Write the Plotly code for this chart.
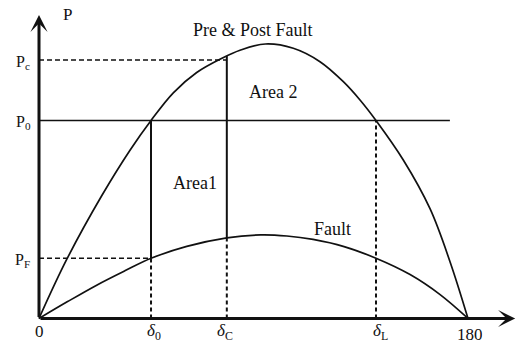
import plotly.graph_objects as go

# Power-angle characteristic: rotor angle (degrees) vs electrical power (p.u. of pre/post-fault peak)
delta_pre = [0, 11.62, 26.31, 38.18, 47.00, 56.35, 66.17, 76.78, 84.34, 95.0,
             106.70, 117.90, 127.69, 134.69, 141.40, 152.85, 164.06, 172.45, 180]
p_pre = [0, 0.215, 0.447, 0.613, 0.7213, 0.822, 0.896, 0.948, 0.977, 1.0,
         0.9843, 0.9355, 0.8627, 0.7960, 0.7213, 0.5774, 0.400, 0.207, 0]

delta_fault = [0, 12.0, 24.2, 36.0, 47.0, 62.0, 78.8, 93.0, 104.0, 115.0, 128.0,
               141.4, 155.7, 168.3, 180]
p_fault = [0, 0.0615, 0.1215, 0.1735, 0.2193, 0.2625, 0.2935, 0.3045, 0.3005, 0.288, 0.262,
           0.2195, 0.160, 0.087, 0]

# Operating points
delta_0 = 47.0      # initial angle
delta_c = 78.8      # clearing angle
delta_l = 141.4     # limiting angle
p_0 = 0.7213        # mechanical input
p_c = 0.9417        # power at clearing
p_f = 0.2193        # fault power at delta_0
p_fault_c = 0.2935  # fault curve at delta_c
p_pre_c = 0.956     # pre/post-fault curve at delta_c
delta_p0_end = 172.4

# Axis extents
x_tip = 199.8
y_tip = 1.106
x_lo, x_hi = -16.364, 200.14
y_lo, y_hi = -0.0893, 1.1603

FONT = "Liberation Serif, Times New Roman, DejaVu Serif, serif"
INK = "#111111"

fig = go.Figure()


def line(xs, ys, width=1.7, dash=None):
    fig.add_trace(go.Scatter(
        x=xs, y=ys, mode="lines", hoverinfo="skip", showlegend=False,
        line=dict(color=INK, width=width, dash=dash)))


# curves
fig.add_trace(go.Scatter(x=delta_pre, y=p_pre, mode="lines", showlegend=False,
                         line=dict(color=INK, width=1.7, shape="spline", smoothing=1.0)))
fig.add_trace(go.Scatter(x=delta_fault, y=p_fault, mode="lines", showlegend=False,
                         line=dict(color=INK, width=1.7, shape="spline", smoothing=1.0)))

# P0 horizontal
line([0, delta_p0_end], [p_0, p_0], 1.6)
# Pc dashed
line([0, delta_c], [p_c, p_c], 1.5, "5px,3px")
# PF dashed
line([0, delta_0], [p_f, p_f], 1.5, "5px,3px")
# delta_0 verticals
line([delta_0, delta_0], [p_f, p_0], 2.0)
line([delta_0, delta_0], [0, p_f], 2.0, "4px,3px")
# delta_c verticals
line([delta_c, delta_c], [p_fault_c, p_pre_c], 2.0)
line([delta_c, delta_c], [0, p_fault_c], 2.0, "4px,3px")
# delta_L dashed
line([delta_l, delta_l], [0, p_0], 2.0, "4px,3px")

annotations = []
# axes with arrows
for tip_x, tip_y in [(0, y_tip), (x_tip, 0)]:
    annotations.append(dict(x=tip_x, y=tip_y, ax=0, ay=0, xref="x", yref="y",
                            axref="x", ayref="y", showarrow=True, arrowhead=3,
                            arrowwidth=3, arrowsize=0.95, arrowcolor=INK, text=""))


def label(text, x, y, xanchor="center", yanchor="middle", xshift=0, yshift=0,
          size=17, height=None):
    ann = dict(text=text, x=x, y=y, xref="x", yref="y", showarrow=False,
               xanchor=xanchor, yanchor=yanchor, xshift=xshift, yshift=yshift,
               font=dict(family=FONT, size=size, color=INK))
    if height is not None:
        ann["height"] = height
    annotations.append(ann)


label("P", 0, y_tip, xshift=28)
label("P<sub>c</sub>", 0, p_c, xanchor="right", xshift=-7, yshift=-2, size=16)
label("P<sub>0</sub>", 0, p_0, xanchor="right", xshift=-6, yshift=-2, size=16)
label("P<sub>F</sub>", 0, p_f, xanchor="right", xshift=-7, yshift=-2, size=16)
label("0", 0, 0, yanchor="top", yshift=-2)
label("<i>δ</i><sub>0</sub>", delta_0, 0, yanchor="top", yshift=-1, xshift=3)
label("<i>δ</i><sub>C</sub>", delta_c, 0, yanchor="top", yshift=-1, xshift=-2)
label("<i>δ</i><sub>L</sub>", delta_l, 0, yanchor="top", yshift=-1, xshift=4)
label("180", 180, 0, yanchor="middle", yshift=-16, xshift=2, height=17)
label("Pre &amp; Post Fault", 89.8, 1.051, size=18)
label("Area 2", 97.97, 0.826, size=18)
label("Area1", 65.45, 0.4936, size=18)
label("Fault", 123.15, 0.326, size=18)

fig.update_layout(
    width=516, height=343,
    margin=dict(l=0, r=0, t=0, b=0),
    paper_bgcolor="white", plot_bgcolor="white",
    xaxis=dict(range=[x_lo, x_hi], visible=False, fixedrange=True),
    yaxis=dict(range=[y_lo, y_hi], visible=False, fixedrange=True),
    annotations=annotations,
    showlegend=False,
)

fig.write_html("out.html")
